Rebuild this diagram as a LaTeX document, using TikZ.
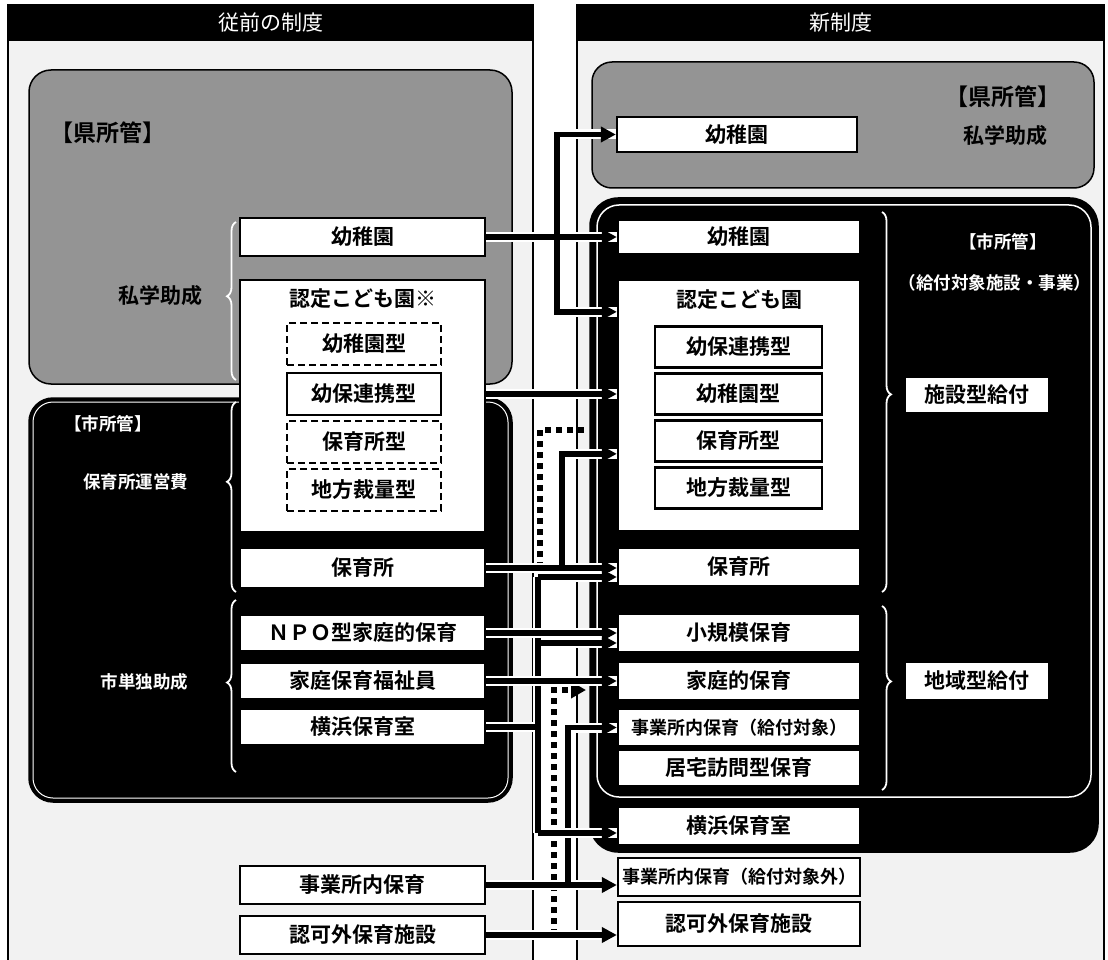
\documentclass[tikz,border=0pt]{standalone}
\usepackage{fontspec}
\setmainfont{Noto Sans CJK JP}[BoldFont={Noto Sans CJK JP Bold}]
\usetikzlibrary{arrows.meta,decorations.pathreplacing,calc}
\newcommand\lbl{\fontsize{21}{24}\selectfont\bfseries}
\newcommand\lbs{\fontsize{18}{21}\selectfont\bfseries}
\newcommand\hdrf{\fontsize{21}{24}\selectfont}
\newcommand\holf{\fontsize{17.5}{20}\selectfont\bfseries}
\newcommand\bigk{\fontsize{23}{26}\selectfont\bfseries}
\begin{document}
\begin{tikzpicture}[x=1pt,y=-1pt,
  box/.style={draw=black,line width=2.3pt,fill=white,inner sep=0pt,font=\lbl,text=black},
  dbox/.style={box,dash pattern=on 7pt off 4pt},
  halo/.style={draw=white,line width=10pt},
  blk/.style={draw=black,line width=5.5pt,-{Triangle[length=15pt,width=15pt]}},
  blkn/.style={draw=black,line width=5.5pt},
  dotl/.style={draw=black,line width=6pt,dash pattern=on 6pt off 5pt},
  hdrtext/.style={text=white,font=\hdrf},
  hollow/.style={text=white,font=\holf},
  wbrace/.style={draw=white,line width=1.8pt,decorate},
  lbltext/.style={font=\lbl,text=black}
]
\useasboundingbox (0,0) rectangle (1108,960);
\fill[white] (0,0) rectangle (1108,960);

% panels
\draw[line width=1.2pt,fill=black!5] (8,5) rectangle (533,966);
\draw[line width=1.2pt,fill=black!5] (577,5) rectangle (1104,966);
\fill[black] (8,5) rectangle (533,41);
\fill[black] (577,5) rectangle (1104,41);
\node[hdrtext] (hL) at (270.5,23) {従前の制度};
\node[hdrtext] (hR) at (840.5,23) {新制度};

% regions
\draw[line width=1.5pt,fill=black!42,rounded corners=22pt] (29,70) rectangle (512,384);
\draw[line width=1.5pt,fill=black,rounded corners=24pt] (29,398) rectangle (512,802);
\draw[white,line width=1pt,rounded corners=20pt] (33,402) rectangle (508,798);
\draw[line width=1.5pt,fill=black!42,rounded corners=20pt] (592,62) rectangle (1094,188);
\draw[line width=1.5pt,fill=black,rounded corners=28pt] (590,198) rectangle (1098,852);
\draw[white,line width=1.5pt,rounded corners=22pt] (597,205) rectangle (1091,797);

% braces
\draw[wbrace,decoration={brace,amplitude=9pt,aspect=0.53}] (236,380) -- (236,222);
\draw[wbrace,decoration={brace,amplitude=9pt,aspect=0.58}] (236,592) -- (236,402);
\draw[wbrace,decoration={brace,amplitude=9pt,aspect=0.52}] (236,772) -- (236,600);
\draw[wbrace,decoration={brace,amplitude=9pt,aspect=0.48}] (882,212) -- (882,592);
\draw[wbrace,decoration={brace,amplitude=9pt,aspect=0.41}] (882,606) -- (882,790);

% region texts
\node[font=\bigk] (kenL) at (108,133) {【県所管】};
\node[lbltext,anchor=east] (shiL) at (206,296) {私学助成};
\node[font=\bigk] (kenR) at (1003,97) {【県所管】};
\node[lbltext] (shiR) at (1005,136) {私学助成};
\node[hollow] (shoL) at (108,424) {【市所管】};
\node[hollow,anchor=east] (unL) at (192,482) {保育所運営費};
\node[hollow,anchor=east] (tanL) at (192,682) {市単独助成};
\node[hollow] (shoR) at (1003,242) {【市所管】};
\node[hollow] (kyuR) at (995,283) {（給付対象施設・事業）};

% left boxes
\node[box,minimum width=245pt,minimum height=38pt] (kindL) at (362.5,237) {幼稚園};
\node[box,minimum width=245pt,minimum height=252pt] (nintL) at (362.5,406) {};
\node[lbltext] (nintLt) at (362.5,299) {認定こども園※};
\node[dbox,minimum width=154pt,minimum height=42pt] (yoL) at (364,344) {幼稚園型};
\node[box,minimum width=154pt,minimum height=42pt] (renL) at (364,394) {幼保連携型};
\node[dbox,minimum width=154pt,minimum height=42pt] (hoL) at (364,442) {保育所型};
\node[dbox,minimum width=154pt,minimum height=42pt] (chiL) at (364,490) {地方裁量型};
\node[box,minimum width=245pt,minimum height=40pt] (hoikuL) at (362.5,568) {保育所};
\node[box,minimum width=245pt,minimum height=36pt] (npoL) at (362.5,633) {ＮＰＯ型家庭的保育};
\node[box,minimum width=245pt,minimum height=36pt] (kateiL) at (362.5,681) {家庭保育福祉員};
\node[box,minimum width=245pt,minimum height=36pt] (yokoL) at (362.5,727) {横浜保育室};
\node[box,minimum width=245pt,minimum height=38pt] (jigyoL) at (362.5,885) {事業所内保育};
\node[box,minimum width=245pt,minimum height=38pt] (ninkaL) at (362.5,935) {認可外保育施設};

% right boxes
\node[box,minimum width=240pt,minimum height=35pt] (kindP) at (737,134.5) {幼稚園};
\node[box,minimum width=242pt,minimum height=34pt] (kindC) at (739,237) {幼稚園};
\node[box,minimum width=242pt,minimum height=251pt] (nintR) at (739,405.5) {};
\node[lbltext] (nintRt) at (739,300) {認定こども園};
\node[box,minimum width=167pt,minimum height=41pt] (renR) at (738.5,347) {幼保連携型};
\node[box,minimum width=167pt,minimum height=41pt] (yoR) at (738.5,394) {幼稚園型};
\node[box,minimum width=167pt,minimum height=41pt] (hoR) at (738.5,441) {保育所型};
\node[box,minimum width=167pt,minimum height=41pt] (chiR) at (738.5,488) {地方裁量型};
\node[box,minimum width=242pt,minimum height=38pt] (hoikuR) at (739,567) {保育所};
\node[box,minimum width=242pt,minimum height=38pt] (shoR2) at (739,633) {小規模保育};
\node[box,minimum width=242pt,minimum height=38pt] (kateiR) at (739,681) {家庭的保育};
\node[box,minimum width=242pt,minimum height=37pt,font=\lbs] (jigyoR1) at (739,727.5) {事業所内保育（給付対象）};
\node[box,minimum width=242pt,minimum height=36pt] (kyotakuR) at (739,768) {居宅訪問型保育};
\node[box,minimum width=242pt,minimum height=38pt] (yokoR) at (739,826) {横浜保育室};
\node[box,minimum width=242pt,minimum height=38pt,font=\lbs] (jigyoR2) at (739,877) {事業所内保育（給付対象外）};
\node[box,minimum width=242pt,minimum height=44pt] (ninkaR) at (739,924) {認可外保育施設};
\node[box,minimum width=145pt,minimum height=36pt] (shisetsu) at (977,395) {施設型給付};
\node[box,minimum width=145pt,minimum height=38pt] (chiiki) at (977,681) {地域型給付};

% gutter coordinates
\coordinate (g1) at (557,0);
\coordinate (g2) at (562,0);
\coordinate (g3) at (538,0);
\coordinate (g4) at (568,0);
\coordinate (g5) at (540,0);
\coordinate (g6) at (554,0);
\coordinate (n1) at ($(nintR.north west)+(0,33)$);
\coordinate (n3) at ($(nintR.north west)+(0,175)$);
\coordinate (n4) at ($(hoikuR.west)+(0,10)$);
\coordinate (n5) at ($(shoR2.west)+(0,10)$);
\coordinate (n6) at ($(yokoR.west)+(0,7)$);
\coordinate (d1a) at (540,430);
\coordinate (d1b) at (584,430);
\coordinate (d2) at (586,690);

% dotted (lowest)
\draw[dotl,-{Triangle[length=15pt,width=16pt]}] (ninkaL.east -| g6) -- (g6 |- d2) -- (d2);

% kindergarten tree
\draw[halo] (kindL.east) -- (kindC.west) (kindL.east -| g1) |- (kindP.west) (kindL.east -| g1) |- (n1);
\draw[blk] (kindL.east) -- (kindC.west);
\draw[blk] (kindL.east -| g1) |- (kindP.west);
\draw[blk] (kindL.east -| g1) |- (n1);

% nintei
\draw[halo] (nintL.east |- renL.east) -- (nintR.west |- renL.east);
\draw[blk] (nintL.east |- renL.east) -- (nintR.west |- renL.east);

% dotted upper
\draw[dotl] (hoikuL.east -| g5) -- (d1a) -- (d1b);

% hoikusho tree
\draw[halo] (hoikuL.east) -- (hoikuL.east -| hoikuR.west) (hoikuL.east -| g2) |- (n3);
\draw[blk] (hoikuL.east) -- (hoikuL.east -| hoikuR.west);
\draw[blk] (hoikuL.east -| g2) |- (n3);

% jigyosho tree
\draw[halo] (jigyoL.east) -- (jigyoL.east -| jigyoR2.west) (jigyoL.east -| g4) |- (jigyoR1.west);
\draw[blk] (jigyoL.east) -- (jigyoL.east -| jigyoR2.west);
\draw[blk] (jigyoL.east -| g4) |- (jigyoR1.west);

% yokohama tree
\draw[halo] (yokoL.east) -- (yokoL.east -| g3) (n4 -| g3) -- (n6 -| g3) (n4 -| g3) -- (n4) (n5 -| g3) -- (n5) (n6 -| g3) -- (n6);
\draw[blkn] (yokoL.east) -- (yokoL.east -| g3);
\draw[blkn] (n4 -| g3) -- (n6 -| g3);
\draw[blk] (n4 -| g3) -- (n4);
\draw[blk] (n5 -| g3) -- (n5);
\draw[blk] (n6 -| g3) -- (n6);

% npo, katei, ninkagai
\draw[halo] (npoL.east) -- (npoL.east -| shoR2.west);
\draw[blk] (npoL.east) -- (npoL.east -| shoR2.west);
\draw[halo] (kateiL.east) -- (kateiL.east -| kateiR.west);
\draw[blk] (kateiL.east) -- (kateiL.east -| kateiR.west);
\draw[halo] (ninkaL.east) -- (ninkaL.east -| ninkaR.west);
\draw[blk] (ninkaL.east) -- (ninkaL.east -| ninkaR.west);
\end{tikzpicture}
\end{document}
